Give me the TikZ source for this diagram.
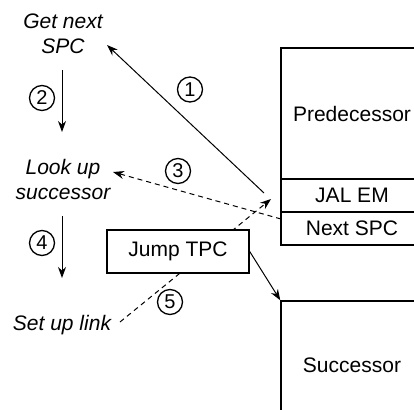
\documentclass[tikz,border=0pt]{standalone}
\usepackage{fontspec}
\setmainfont{Liberation Sans}
\usetikzlibrary{arrows.meta}
\begin{document}
\begin{tikzpicture}[x=1pt,y=-1pt,
  every node/.style={font=\fontsize{21}{25}\selectfont},
  box/.style={draw,line width=1.4pt,fill=white,inner sep=0pt},
  lbl/.style={align=center,inner sep=0pt,font=\fontsize{21}{25}\selectfont\itshape},
  num/.style={draw,circle,line width=1.3pt,minimum size=25pt,inner sep=0pt,font=\fontsize{20}{20}\selectfont},
  arr/.style={line width=1pt,-{Stealth[length=11pt,width=8pt]}},
  dsh/.style={arr,dash pattern=on 5pt off 4pt}]
\useasboundingbox (0,0) rectangle (414,409);
\clip (0,0) rectangle (414,409);
% boxes at right
\node[box,minimum width=142pt,minimum height=131pt] (pred) at (352,113.5) {Predecessor};
\node[box,minimum width=142pt,minimum height=33pt] (jal) at (352,195.5) {JAL EM};
\node[box,minimum width=142pt,minimum height=33pt] (nspc) at (352,228.5) {Next SPC};
\node[box,minimum width=142pt,minimum height=129pt] (succ) at (352,365.5) {Successor};
% left labels
\node[lbl] (gns) at (63,34) {Get next\\SPC};
\node[lbl] (lus) at (63,179) {Look up\\successor};
\node[lbl] (sul) at (62,325) {Set up link};
% endpoints
\coordinate (t1) at (264,193);
\coordinate (h1) at (107,45);
\coordinate (t2) at (62,70);
\coordinate (h2) at (62,132);
\coordinate (t3) at (281,219);
\coordinate (h3) at (113,172);
\coordinate (t4) at (62,216);
\coordinate (h4) at (62,278);
\coordinate (t5) at (120,322);
\coordinate (h5) at (271,199);
% connectors
\draw[arr] (t1) -- (h1);
\draw[arr] (t2) -- (h2);
\draw[dsh] (t3) -- (h3);
\draw[arr] (t4) -- (h4);
\draw[dsh] (t5) -- (h5);
% jump box on top of dashed line
\node[box,minimum width=142pt,minimum height=43pt] (jtpc) at (178,251.5) {Jump TPC};
\draw[arr] (jtpc.east) -- (succ.north west);
% circled numbers
\node[num] (n1) at (190,89.5) {1};
\node[num] (n2) at (42,98) {2};
\node[num] (n3) at (178,171) {3};
\node[num] (n4) at (42,243) {4};
\node[num] (n5) at (170,302) {5};
\end{tikzpicture}
\end{document}
